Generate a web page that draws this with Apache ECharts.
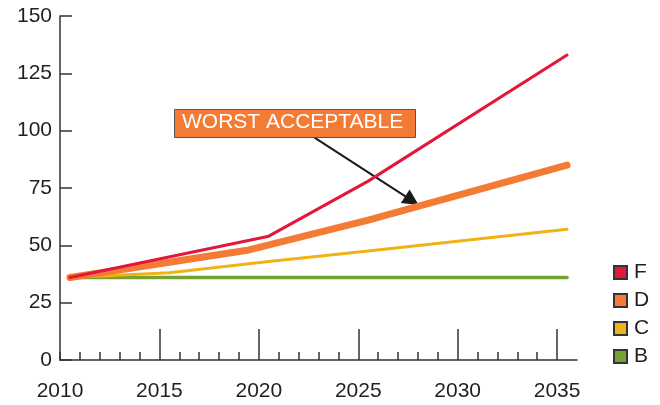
<!DOCTYPE html>
<html>
<head>
<meta charset="utf-8">
<script src="https://cdn.jsdelivr.net/npm/echarts@6/dist/echarts.min.js"></script>
<style>
html, body { margin: 0; padding: 0; background: #fff; }
#chart { width: 660px; height: 405px; }
</style>
</head>
<body>
<div id="chart"></div>
<script>
// years are read at mid-year, as the lines start/end between ticks
var seriesNames = ['F', 'D', 'C', 'B'];
var seriesColors = ['#e3173a', '#f47b35', '#efb414', '#76a230'];
var seriesWidths = [3, 7, 3, 3.5];
var dataF = [[2010.5, 36], [2020.5, 54], [2025.5, 78], [2035.5, 133]];
var dataD = [[2010.5, 36], [2019.5, 48], [2025.5, 61], [2035.5, 85]];
var dataC = [[2010.5, 36], [2015.5, 38], [2020.5, 43], [2025.5, 47.5], [2035.5, 57]];
var dataB = [[2010.5, 36], [2035.5, 36]];
var majorYears = [2015, 2020, 2025, 2030, 2035];
var arrowFrom = [2022.8, 97];
var arrowTo = [2027.7, 69.5];

var font = 'Liberation Sans, Arial, sans-serif';
var axisColor = '#333';
var textColor = '#231f20';

var allData = [dataF, dataD, dataC, dataB];
var series = allData.map(function (d, i) {
    var s = {
        name: seriesNames[i],
        type: 'line',
        data: d,
        symbol: 'none',
        z: 10 - i,
        lineStyle: {color: seriesColors[i], width: seriesWidths[i], cap: 'round', join: 'round'},
        itemStyle: {color: seriesColors[i], borderColor: '#333', borderWidth: 1}
    };
    return s;
});
series[1].markLine = {
    silent: true,
    symbol: ['none', 'triangle'],
    symbolSize: [16, 16],
    label: {show: false},
    lineStyle: {color: '#1a1a1a', width: 2, type: 'solid'},
    data: [[{coord: arrowFrom}, {coord: arrowTo}]]
};

var option = {
    animation: false,
    backgroundColor: '#fff',
    grid: {left: 60, right: 83, top: 16, bottom: 45},
    legend: {
        orient: 'vertical',
        left: 608,
        top: 257,
        icon: 'rect',
        itemWidth: 13,
        itemHeight: 13,
        itemGap: 7,
        data: seriesNames,
        textStyle: {fontFamily: font, fontSize: 21, color: textColor, padding: [0, 0, 0, 2]}
    },
    xAxis: [
        {
            type: 'value',
            min: 2010,
            max: 2036,
            interval: 1,
            splitLine: {show: false},
            axisLine: {show: true, lineStyle: {color: axisColor, width: 1.5}},
            axisTick: {show: true, inside: true, length: 8, lineStyle: {color: axisColor, width: 1.5}},
            axisLabel: {
                fontFamily: font, fontSize: 21, color: textColor, margin: 21,
                showMaxLabel: false,
                formatter: function (v) { return v % 5 === 0 ? String(v) : ''; }
            }
        },
        {
            type: 'value',
            min: 2010,
            max: 2036,
            position: 'bottom',
            splitLine: {show: false},
            axisLine: {show: false},
            axisLabel: {show: false},
            axisTick: {show: true, inside: true, length: 31, customValues: majorYears, lineStyle: {color: axisColor, width: 1.5}}
        }
    ],
    yAxis: {
        type: 'value',
        min: 0,
        max: 150,
        interval: 25,
        splitLine: {show: false},
        axisLine: {show: true, lineStyle: {color: axisColor, width: 1.5}},
        axisTick: {show: true, inside: true, length: 12, lineStyle: {color: axisColor, width: 1.5}},
        axisLabel: {fontFamily: font, fontSize: 21, color: textColor, margin: 8}
    },
    graphic: [
        {
            type: 'rect',
            left: 174,
            top: 109,
            shape: {width: 241, height: 28},
            style: {fill: '#f47b35', stroke: '#555', lineWidth: 1},
            z: 100
        },
        {
            type: 'text',
            left: 182,
            top: 112,
            style: {text: 'WORST ACCEPTABLE', fill: '#fff', font: '21px ' + font},
            z: 101
        }
    ],
    series: series
};

var myChart = echarts.init(document.getElementById('chart'));
myChart.setOption(option);
</script>
</body>
</html>
